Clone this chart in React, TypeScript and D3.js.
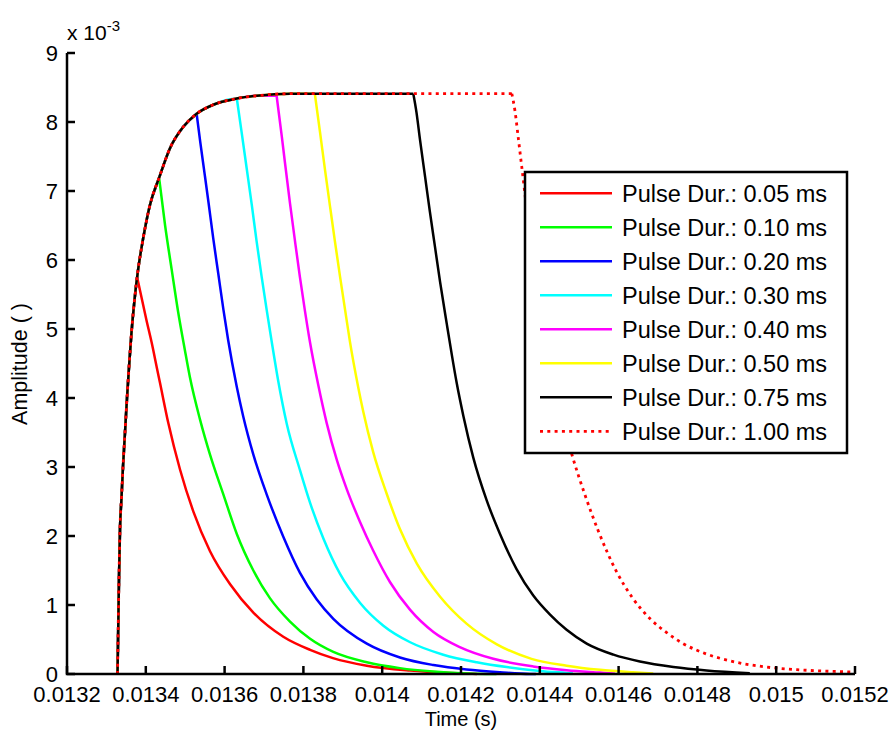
import React from 'react';
import * as d3 from 'd3';

const W = 895;
const H = 739;

const xTicks = [0.0132, 0.0134, 0.0136, 0.0138, 0.014, 0.0142, 0.0144, 0.0146, 0.0148, 0.015, 0.0152];
const xTickLabels = ['0.0132', '0.0134', '0.0136', '0.0138', '0.014', '0.0142', '0.0144', '0.0146', '0.0148', '0.015', '0.0152'];
const yTicks = [0, 1, 2, 3, 4, 5, 6, 7, 8, 9];
const yTickLabels = ['0', '1', '2', '3', '4', '5', '6', '7', '8', '9'];

// shared rising edge (amplitude in units of 1e-3)
const riseT = [0.0133282, 0.013332, 0.0133345, 0.0133383, 0.0133421, 0.0133472, 0.0133523, 0.0133574, 0.0133637, 0.0133713, 0.0133802, 0.0133929, 0.0134107, 0.0134343, 0.0134614, 0.0134952, 0.0135292, 0.0135713, 0.0136307, 0.0136815, 0.013766, 0.0152];
const riseA = [0, 1.4, 2.1, 2.55, 3.0, 3.5, 4.0, 4.45, 4.95, 5.42, 5.85, 6.3, 6.8, 7.2, 7.62, 7.93, 8.12, 8.25, 8.34, 8.38, 8.41, 8.41];

const d005T = [0.013378, 0.013402, 0.013415, 0.013428, 0.013436, 0.013457, 0.013487, 0.013521, 0.013563, 0.013614, 0.013673, 0.013749, 0.013817, 0.013875, 0.013961, 0.014071, 0.014172, 0.01424];
const d005A = [5.75, 5.12, 4.8, 4.44, 4.22, 3.64, 2.96, 2.35, 1.78, 1.3, 0.89, 0.54, 0.35, 0.23, 0.12, 0.05, 0.015, 0.0];

const d010T = [0.013434, 0.013449, 0.013466, 0.013482, 0.013499, 0.013512, 0.013538, 0.013563, 0.013597, 0.013631, 0.013673, 0.013715, 0.013766, 0.013817, 0.013876, 0.013961, 0.014045, 0.014129, 0.014265, 0.01429];
const d010A = [7.18, 6.5, 5.85, 5.25, 4.7, 4.3, 3.68, 3.18, 2.6, 2.03, 1.5, 1.1, 0.76, 0.51, 0.32, 0.17, 0.085, 0.035, 0.0, 0.0];

const d020T = [0.013529, 0.013538, 0.01355, 0.013559, 0.013571, 0.013584, 0.013597, 0.013609, 0.013631, 0.013647, 0.013673, 0.013707, 0.013749, 0.013791, 0.013834, 0.013876, 0.013961, 0.014045, 0.01413, 0.014214, 0.014299, 0.014375, 0.01439];
const d020A = [8.12, 7.72, 7.22, 6.84, 6.32, 5.8, 5.28, 4.84, 4.16, 3.74, 3.18, 2.6, 1.99, 1.47, 1.08, 0.8, 0.44, 0.24, 0.13, 0.065, 0.025, 0.0, 0.0];

const d030T = [0.013631, 0.013643, 0.013656, 0.013669, 0.013681, 0.013694, 0.013707, 0.01372, 0.013736, 0.013758, 0.013791, 0.013817, 0.013851, 0.013893, 0.013944, 0.014003, 0.014071, 0.014155, 0.01424, 0.014316, 0.0144, 0.014468, 0.014484];
const d030A = [8.34, 7.86, 7.33, 6.8, 6.28, 5.76, 5.27, 4.8, 4.25, 3.62, 2.96, 2.48, 1.96, 1.45, 1.03, 0.7, 0.46, 0.28, 0.17, 0.1, 0.045, 0.015, 0.008];

const d040T = [0.013732, 0.013745, 0.013753, 0.013766, 0.013779, 0.013791, 0.013804, 0.013817, 0.013838, 0.013859, 0.013885, 0.01391, 0.013944, 0.013977, 0.01402, 0.014071, 0.01413, 0.014197, 0.014282, 0.014383, 0.014468, 0.014553, 0.014591];
const d040A = [8.38, 7.8, 7.42, 6.82, 6.26, 5.76, 5.26, 4.8, 4.18, 3.64, 3.1, 2.68, 2.2, 1.79, 1.33, 0.93, 0.61, 0.39, 0.22, 0.11, 0.055, 0.02, 0.005];

const d050T = [0.013829, 0.013842, 0.013855, 0.013868, 0.01388, 0.013893, 0.013906, 0.013918, 0.013939, 0.013952, 0.013977, 0.014011, 0.014045, 0.014088, 0.014147, 0.014214, 0.014291, 0.014379, 0.014468, 0.014553, 0.014637, 0.014688];
const d050A = [8.41, 7.86, 7.3, 6.76, 6.27, 5.76, 5.27, 4.82, 4.16, 3.8, 3.22, 2.62, 2.1, 1.6, 1.12, 0.73, 0.43, 0.22, 0.12, 0.06, 0.025, 0.008];

const d075T = [0.014079, 0.014087, 0.014096, 0.014109, 0.014121, 0.014134, 0.014147, 0.014164, 0.014176, 0.014189, 0.014206, 0.014231, 0.014265, 0.014299, 0.014341, 0.014383, 0.014426, 0.014468, 0.014519, 0.014587, 0.014654, 0.014739, 0.014823, 0.014933];
const d075A = [8.41, 8.14, 7.74, 7.2, 6.7, 6.19, 5.68, 5.07, 4.65, 4.22, 3.74, 3.14, 2.52, 2.03, 1.52, 1.14, 0.86, 0.64, 0.44, 0.28, 0.18, 0.1, 0.05, 0.012];

const d100T = [0.014329, 0.014337, 0.014346, 0.014354, 0.014371, 0.014395, 0.014426, 0.01445, 0.014482, 0.014515, 0.014548, 0.014595, 0.014637, 0.01468, 0.014722, 0.014764, 0.014823, 0.014891, 0.014976, 0.01506, 0.015192];
const d100A = [8.41, 8.16, 7.74, 7.36, 6.55, 5.62, 4.55, 3.85, 3.17, 2.59, 2.08, 1.48, 1.09, 0.8, 0.6, 0.44, 0.29, 0.18, 0.1, 0.06, 0.03];

const seriesNames = [
  'Pulse Dur.: 0.05 ms',
  'Pulse Dur.: 0.10 ms',
  'Pulse Dur.: 0.20 ms',
  'Pulse Dur.: 0.30 ms',
  'Pulse Dur.: 0.40 ms',
  'Pulse Dur.: 0.50 ms',
  'Pulse Dur.: 0.75 ms',
  'Pulse Dur.: 1.00 ms',
];
const seriesColors = ['#ff0000', '#00ff00', '#0000ff', '#00ffff', '#ff00ff', '#ffff00', '#000000', '#ff0000'];
const seriesDashed = [false, false, false, false, false, false, false, true];
const decays: [number[], number[]][] = [
  [d005T, d005A], [d010T, d010A], [d020T, d020A], [d030T, d030A],
  [d040T, d040A], [d050T, d050A], [d075T, d075A], [d100T, d100A],
];

function risePart(dT: number[], dA: number[]): [number, number][] {
  const pts: [number, number][] = [];
  for (let i = 0; i < riseT.length; i++) {
    if (riseT[i] < dT[0]) pts.push([riseT[i], riseA[i]]);
  }
  pts.push([dT[0], dA[0]]);
  return pts;
}
function decayPart(dT: number[], dA: number[]): [number, number][] {
  return dT.map((t, i) => [t, dA[i]] as [number, number]);
}

const FONT = '"Liberation Sans", Arial, Helvetica, sans-serif';

export default function App() {
  const left = 67, right = 855, top = 53, bottom = 674;
  const x = d3.scaleLinear().domain([0.0132, 0.0152]).range([left, right]);
  const y = d3.scaleLinear().domain([0, 9]).range([bottom, top]);
  const line = d3.line<[number, number]>()
    .x((d) => x(d[0]))
    .y((d) => y(d[1]))
    .curve(d3.curveMonotoneX);

  const legX = 525, legY = 172, legW = 322, legH = 281;
  const rowY0 = 193.3, rowStep = 34;

  return (
    <svg width={W} height={H} style={{ position: 'absolute', left: 0, top: 0, background: '#fff' }} fontFamily={FONT}>
      <rect x={0} y={0} width={W} height={H} fill="#fff" />
      {decays.map(([dT, dA], i) => {
        const d = (line(risePart(dT, dA)) || '') + (line(decayPart(dT, dA)) || '');
        return (
          <path key={i} d={d} fill="none" stroke={seriesColors[i]}
            strokeWidth={seriesDashed[i] ? 2.8 : 2.5}
            strokeDasharray={seriesDashed[i] ? '3,4.3' : undefined}
            strokeLinejoin="miter" />
        );
      })}
      {/* axes */}
      <path d={`M${left},${top}V${bottom}H${right}`} fill="none" stroke="#000" strokeWidth={2.5} />
      {xTicks.map((t, i) => (
        <g key={'xt' + i}>
          <line x1={x(t)} x2={x(t)} y1={bottom} y2={bottom - 8} stroke="#000" strokeWidth={2.5} />
          <text x={x(t)} y={702} textAnchor="middle" fontSize={22}>{xTickLabels[i]}</text>
        </g>
      ))}
      {yTicks.map((v, i) => (
        <g key={'yt' + i}>
          <line x1={left} x2={left + 8} y1={y(v)} y2={y(v)} stroke="#000" strokeWidth={2.5} />
          <text x={58} y={y(v) + 8} textAnchor="end" fontSize={22}>{yTickLabels[i]}</text>
        </g>
      ))}
      <text x={67} y={40} fontSize={21}>x 10<tspan fontSize={15} dy={-9}>-3</tspan></text>
      <text x={461} y={726} textAnchor="middle" fontSize={20}>Time (s)</text>
      <text transform={`translate(27,364) rotate(-90)`} textAnchor="middle" fontSize={21.5}>Amplitude ( )</text>
      {/* legend */}
      <rect x={legX} y={legY} width={legW} height={legH} fill="#fff" stroke="#000" strokeWidth={2.5} />
      {seriesNames.map((name, i) => {
        const ry = rowY0 + i * rowStep;
        return (
          <g key={'lg' + i}>
            <line x1={540} x2={612} y1={ry} y2={ry} stroke={seriesColors[i]}
              strokeWidth={seriesDashed[i] ? 2.8 : 2.5}
              strokeDasharray={seriesDashed[i] ? '3,4.3' : undefined} />
            <text x={622} y={ry + 8.5} fontSize={23.5}>{name}</text>
          </g>
        );
      })}
    </svg>
  );
}
